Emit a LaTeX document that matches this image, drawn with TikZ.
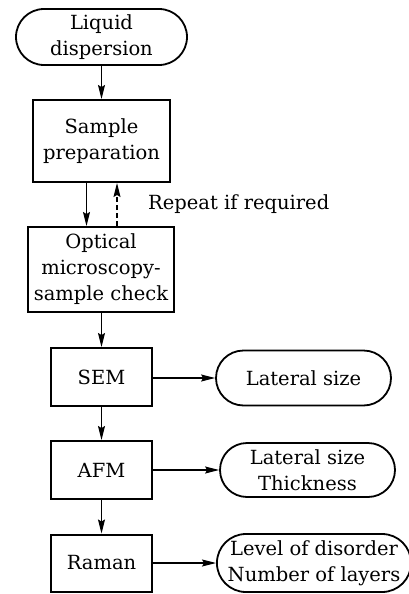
\documentclass[tikz,border=0pt]{standalone}
\usepackage{fontspec}
\setmainfont{DejaVu Serif}
\usetikzlibrary{arrows.meta,shapes.misc}
\tikzset{
  txt/.style={font=\fontsize{19.5}{26}\selectfont, align=center, inner sep=0pt},
  boxnode/.style={txt, draw, line width=2pt, rectangle},
  stadium/.style={txt, draw, line width=1.8pt, rounded rectangle},
  arr/.style={line width=1.1pt, -{Stealth[length=14pt,width=7pt,inset=2pt]}},
  dasharr/.style={arr, dash pattern=on 5pt off 3pt}
}
\begin{document}
\begin{tikzpicture}[x=1pt,y=-1pt]
\useasboundingbox (0,0) rectangle (408,594);
\node[stadium, minimum width=171pt, minimum height=56pt] (liquid) at (101.5,37) {Liquid\\dispersion};
\node[boxnode, minimum width=137pt, minimum height=82pt] (sample) at (101.5,141) {Sample\\preparation};
\node[boxnode, minimum width=146pt, minimum height=85pt] (optical) at (101,269.5) {Optical\\microscopy-\\sample check};
\node[boxnode, minimum width=101pt, minimum height=58pt] (sem) at (101.5,377) {SEM};
\node[boxnode, minimum width=101pt, minimum height=58pt] (afm) at (101.5,470) {AFM};
\node[boxnode, minimum width=101pt, minimum height=57pt] (raman) at (101.5,563) {Raman};
\node[stadium, minimum width=175pt, minimum height=55pt] (lat1) at (303.5,378) {Lateral size};
\node[stadium, minimum width=175pt, minimum height=54pt] (lat2) at (307.5,470) {Lateral size\\Thickness};
\node[stadium, minimum width=184pt, minimum height=58pt] (lev) at (314,563) {Level of disorder\\Number of layers};
\node[txt, anchor=west] (repeat) at (148,204) {Repeat if required};
\draw[arr] (liquid) -- (sample);
\draw[arr] ([xshift=-15pt]sample.south) -- ([xshift=-15pt]sample.south |- optical.north);
\draw[dasharr] ([xshift=16pt]optical.north) -- ([xshift=16pt]optical.north |- sample.south);
\draw[arr] (optical.south -| sem.north) -- (sem.north);
\draw[arr] (sem) -- (afm);
\draw[arr] (afm) -- (raman);
\draw[arr] (sem.east |- lat1.west) -- (lat1.west);
\draw[arr] (afm.east) -- (lat2.west);
\draw[arr] (raman.east) -- (lev.west);
\end{tikzpicture}
\end{document}
